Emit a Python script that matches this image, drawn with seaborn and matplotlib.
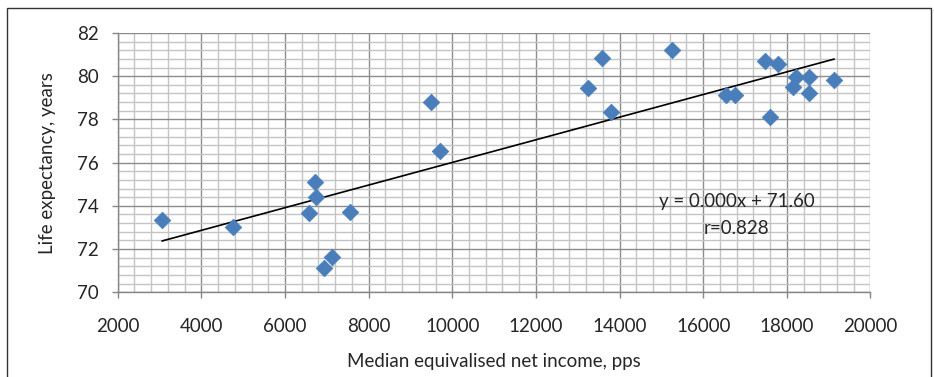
import numpy as np
import pandas as pd
import matplotlib
matplotlib.use("Agg")
import matplotlib.pyplot as plt
from matplotlib.ticker import MultipleLocator
from matplotlib.patches import Rectangle
import seaborn as sns

income = [3059, 4749, 6717, 6740, 6581, 7553, 6932, 7131, 9490, 9712,
          13250, 13585, 13800, 15244, 16550, 16750, 17475, 17785, 17587,
          18223, 18151, 18534, 18527, 19133]
life_exp = [73.34, 73.03, 75.12, 74.42, 73.65, 73.73, 71.13, 71.64, 78.82, 76.54,
            79.44, 80.83, 78.33, 81.21, 79.13, 79.13, 80.72, 80.55, 78.13,
            79.95, 79.52, 79.95, 79.24, 79.82]
x_label = "Median equivalised net income, pps"
y_label = "Life expectancy, years"
eq_text = "y = 0.000x + 71.60"
r_text = "r=0.828"

df = pd.DataFrame({"income": income, "life": life_exp})

sns.set_style("white")
plt.rcParams['font.family'] = ['Lato', 'DejaVu Sans']

fig = plt.figure(figsize=(9.34, 3.77), dpi=100)
ax = fig.add_axes([0.126, 0.2247, 0.806, 0.6878])

sns.regplot(data=df, x="income", y="life", scatter=False, ci=None, truncate=True,
            line_kws=dict(color="black", lw=1.2, zorder=3), ax=ax)
sns.scatterplot(data=df, x="income", y="life", marker="D", s=72,
                color="#4A7EBB", edgecolor="#4A7EBB", linewidth=0.5, zorder=4, ax=ax)

ax.set_xlim(2000, 20000)
ax.set_ylim(70, 82)
ax.xaxis.set_major_locator(MultipleLocator(2000))
ax.xaxis.set_minor_locator(MultipleLocator(400))
ax.yaxis.set_major_locator(MultipleLocator(2))
ax.yaxis.set_minor_locator(MultipleLocator(0.4))
ax.grid(which="major", color="#8c8c8c", lw=1.0, zorder=0)
ax.grid(which="minor", color="#c4c4c4", lw=1.0, zorder=0)
ax.set_axisbelow(True)

for s in ["top", "right"]:
    ax.spines[s].set_visible(False)
for s in ["left", "bottom"]:
    ax.spines[s].set_color("#868686")
    ax.spines[s].set_linewidth(1.0)

ax.tick_params(which="major", direction="out", length=4.3, width=1.0, color="#868686",
               labelsize=13.5, left=True, bottom=True)
ax.tick_params(axis="x", which="major", pad=14.5)
ax.tick_params(axis="y", which="major", pad=9.5)
ax.tick_params(which="minor", length=0)

ax.set_xlabel(x_label, fontsize=13.5, labelpad=13)
ax.set_ylabel(y_label, fontsize=13.5, labelpad=15)

ax.text(16805, 74.18, eq_text, ha="center", va="center", fontsize=13.5, zorder=5)
ax.text(16805, 72.97, r_text, ha="center", va="center", fontsize=13.5, zorder=5)

fig.patches.append(Rectangle((7 / 934, -0.05), 924 / 934, 1.05 - 8 / 377,
                             transform=fig.transFigure, fill=False,
                             edgecolor="#333333", lw=1.0))

fig.savefig("out.png", dpi=100)
